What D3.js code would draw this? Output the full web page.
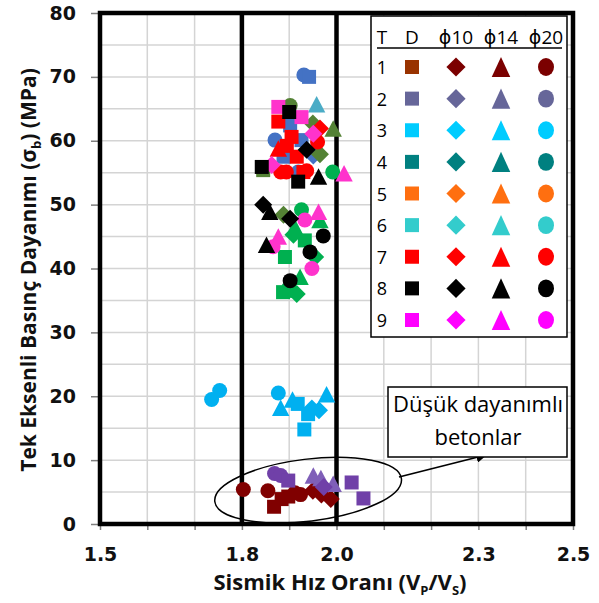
<!DOCTYPE html>
<html>
<head>
<meta charset="utf-8">
<script src="https://cdn.jsdelivr.net/npm/d3@7"></script>
<style>
  html, body { margin: 0; padding: 0; background: #fff; }
  svg { display: block; }
</style>
</head>
<body>
<svg id="chart" width="599" height="603"></svg>
<script>
// Axis ticks
const xTickLabels = [1.5, 1.8, 2.0, 2.3, 2.5];
const yTickLabels = [0, 10, 20, 30, 40, 50, 60, 70, 80];
const xBoundaries = [1.8, 2.0];

// Legend rows: T index, colour of D square, colour of the φ markers
const legendRows = ["1", "2", "3", "4", "5", "6", "7", "8", "9"];
const legendSquareColors = ["#993300", "#666699", "#00CCFF", "#008080", "#FF6F10", "#33CCCC", "#FF0000", "#000000", "#FF00FF"];
const legendShapeColors  = ["#7B0000", "#666699", "#00CCFF", "#008080", "#FF6F10", "#33CCCC", "#FF0000", "#000000", "#FF00FF"];
const legendHeaders = ["T", "D", "ϕ10", "ϕ14", "ϕ20"];
const legendShapes = ["square", "diamond", "triangle", "circle"];

// Measured samples: Vp/Vs ratio and uniaxial compressive strength (MPa)
const darkRedSquares   = { vp: [1.868, 1.884, 1.898], s: [2.7, 3.9, 4.3] };
const darkRedCircles   = { vp: [1.803, 1.855, 1.912, 1.924], s: [5.4, 5.2, 4.9, 4.6] };
const darkRedDiamonds  = { vp: [1.950, 1.968, 1.988], s: [5.2, 4.6, 3.9] };

const purpleCircles    = { vp: [1.869, 1.882], s: [7.9, 7.6] };
const purpleSquares    = { vp: [1.898, 2.032, 2.057], s: [6.8, 6.5, 4.0] };
const purpleTriangles  = { vp: [1.951, 1.967, 1.993], s: [7.6, 7.2, 6.3] };
const purpleDiamonds   = { vp: [1.973], s: [5.8] };

const cyanCircles      = { vp: [1.736, 1.753, 1.877], s: [19.5, 20.9, 20.5] };
const cyanTriangles    = { vp: [1.882, 1.907, 1.979], s: [18.2, 19.5, 20.3] };
const cyanSquares      = { vp: [1.918, 1.940, 1.932], s: [18.8, 17.2, 14.8] };
const cyanDiamonds     = { vp: [1.948, 1.963], s: [18.1, 17.8] };

const greenCircles     = { vp: [1.926, 1.992], s: [49.2, 55.1] };
const greenTriangles   = { vp: [1.965, 1.912, 1.923], s: [47.6, 46.5, 38.7] };
const greenSquares     = { vp: [1.933, 1.891, 1.887, 1.900], s: [44.4, 41.8, 36.3, 36.5] };
const greenDiamonds    = { vp: [1.909, 1.955, 1.916], s: [45.3, 41.8, 36.0] };

const oliveCircles     = { vp: [1.902], s: [65.5] };
const oliveSquares     = { vp: [1.845], s: [55.4] };
const oliveDiamonds    = { vp: [1.950, 1.965, 1.888], s: [62.7, 57.9, 48.4] };
const oliveTriangles   = { vp: [1.993], s: [61.9] };

const blueCircles      = { vp: [1.931, 1.870, 1.919], s: [70.3, 60.1, 55.1] };
const blueSquares      = { vp: [1.942, 1.902, 1.926, 1.888], s: [70.0, 62.4, 60.1, 57.5] };
const blueDiamonds     = { vp: [1.951], s: [57.7] };
const steelTriangles   = { vp: [1.958], s: [65.7] };

const redSquares       = { vp: [1.877, 1.905, 1.895, 1.916, 1.930], s: [63.0, 60.6, 59.2, 57.5, 55.1] };
const redCircles       = { vp: [1.960, 1.882, 1.894, 1.937], s: [59.8, 55.1, 55.1, 55.3] };
const redDiamonds      = { vp: [1.965], s: [61.9] };
const redTriangles     = { vp: [1.877], s: [58.8] };

const pinkSquares      = { vp: [1.877, 1.926], s: [65.3, 63.7] };
const pinkDiamonds     = { vp: [1.951, 1.863], s: [61.1, 56.2] };
const pinkTriangles    = { vp: [1.962, 1.877, 2.016], s: [48.9, 45.0, 54.9] };
const pinkCircles      = { vp: [1.933, 1.866, 1.948], s: [47.6, 43.4, 40.0] };

const blackSquares     = { vp: [1.900, 1.842, 1.919], s: [64.5, 55.9, 53.6] };
const blackDiamonds    = { vp: [1.937, 1.845, 1.902], s: [58.6, 50.0, 47.8] };
const blackTriangles   = { vp: [1.859, 1.852, 1.962], s: [48.9, 43.7, 54.4] };
const blackCircles     = { vp: [1.972, 1.944, 1.902], s: [45.1, 42.6, 38.1] };

// Draw order (later groups sit on top)
const seriesList = [
  [oliveSquares, "square", "#548235"],
  [oliveCircles, "circle", "#548235"],
  [blueCircles, "circle", "#4472C4"],
  [blueSquares, "square", "#4472C4"],
  [blueDiamonds, "diamond", "#4472C4"],
  [steelTriangles, "triangle", "#4BACC6"],
  [oliveDiamonds, "diamond", "#548235"],
  [oliveTriangles, "triangle", "#548235"],
  [redSquares, "square", "#FF0000"],
  [redCircles, "circle", "#FF0000"],
  [redDiamonds, "diamond", "#FF0000"],
  [redTriangles, "triangle", "#FF0000"],
  [greenSquares, "square", "#00B050"],
  [greenDiamonds, "diamond", "#00B050"],
  [greenTriangles, "triangle", "#00B050"],
  [greenCircles, "circle", "#00B050"],
  [pinkSquares, "square", "#FF33CC"],
  [pinkDiamonds, "diamond", "#FF33CC"],
  [pinkTriangles, "triangle", "#FF33CC"],
  [pinkCircles, "circle", "#FF33CC"],
  [blackSquares, "square", "#000000"],
  [blackDiamonds, "diamond", "#000000"],
  [blackTriangles, "triangle", "#000000"],
  [blackCircles, "circle", "#000000"],
  [cyanCircles, "circle", "#00B0F0"],
  [cyanTriangles, "triangle", "#00B0F0"],
  [cyanSquares, "square", "#00B0F0"],
  [cyanDiamonds, "diamond", "#00B0F0"],
  [darkRedSquares, "square", "#800000"],
  [darkRedCircles, "circle", "#800000"],
  [darkRedDiamonds, "diamond", "#800000"],
  [purpleCircles, "circle", "#7040A8"],
  [purpleSquares, "square", "#7040A8"],
  [purpleTriangles, "triangle", "#7F5FB8"],
  [purpleDiamonds, "diamond", "#7040A8"]
];

const svg = d3.select("#chart");
const plotLeft = 100, plotRight = 573, plotTop = 13, plotBottom = 524;
const x = d3.scaleLinear().domain([1.5, 2.5]).range([plotLeft, plotRight]);
const y = d3.scaleLinear().domain([0, 80]).range([plotBottom, plotTop]);
const boldFont = "'Open Sans', 'DejaVu Sans', sans-serif";
const tickFont = "'DejaVu Sans', sans-serif";
const regFont = "'Open Sans', 'DejaVu Sans', sans-serif";

// Marker outline centred on (0,0)
function markerPath(shape, s) {
  const p = d3.path();
  if (shape === "square") {
    p.rect(-s / 2, -s / 2, s, s);
  } else if (shape === "diamond") {
    const h = s * 0.6;
    p.moveTo(0, -h); p.lineTo(h, 0); p.lineTo(0, h); p.lineTo(-h, 0); p.closePath();
  } else if (shape === "triangle") {
    const w = s * 0.58, hh = s * 0.55;
    p.moveTo(0, -hh); p.lineTo(w, hh); p.lineTo(-w, hh); p.closePath();
  } else {
    p.arc(0, 0, s / 2, 0, 2 * Math.PI);
  }
  return p.toString();
}

// Grid
const grid = svg.append("g");
grid.selectAll("line.gx").data(d3.range(1.6, 2.5, 0.1)).join("line")
  .attr("x1", d => x(d)).attr("x2", d => x(d))
  .attr("y1", plotTop).attr("y2", plotBottom)
  .attr("stroke", "#D4D4D4").attr("stroke-width", 1.5);
grid.selectAll("line.gy").data(d3.range(5, 80, 5)).join("line")
  .attr("x1", plotLeft).attr("x2", plotRight)
  .attr("y1", d => y(d)).attr("y2", d => y(d))
  .attr("stroke", "#D4D4D4").attr("stroke-width", 1.5);

// Axes
const xAxis = d3.axisBottom(x).tickValues(d3.range(1.5, 2.55, 0.1)).tickSize(6).tickPadding(18)
  .tickFormat(d => xTickLabels.some(v => Math.abs(v - d) < 1e-6) ? d3.format(".1f")(d) : "");
const gx = svg.append("g").attr("transform", `translate(0,${plotBottom})`).call(xAxis);
gx.select(".domain").remove();
gx.selectAll(".tick line").attr("stroke", "#7f7f7f").attr("stroke-width", 1.5);
gx.selectAll(".tick text").attr("font-family", tickFont).attr("font-weight", "bold")
  .attr("font-size", 19).attr("fill", "#111");

const yAxis = d3.axisLeft(y).tickValues(yTickLabels).tickSize(9).tickPadding(15).tickFormat(d3.format("d"));
const gy = svg.append("g").attr("transform", `translate(${plotLeft},0)`).call(yAxis);
gy.select(".domain").remove();
gy.selectAll(".tick line").attr("stroke", "#7f7f7f").attr("stroke-width", 1.5);
gy.selectAll(".tick text").attr("font-family", tickFont).attr("font-weight", "bold")
  .attr("font-size", 19).attr("fill", "#111");

// Boundary lines at Vp/Vs = 1.8 and 2.0
svg.append("g").selectAll("line").data(xBoundaries).join("line")
  .attr("x1", d => x(d)).attr("x2", d => x(d))
  .attr("y1", plotTop).attr("y2", plotBottom)
  .attr("stroke", "#000").attr("stroke-width", 4.5);

// Data markers
const marks = svg.append("g");
seriesList.forEach(([ser, shape, color]) => {
  const pts = ser.vp.map((v, i) => ({ vp: v, s: ser.s[i] }));
  const size = shape === "square" ? 14 : 15;
  marks.append("g").selectAll("path").data(pts).join("path")
    .attr("transform", d => `translate(${x(d.vp)},${y(d.s)})`)
    .attr("d", markerPath(shape, size))
    .attr("fill", color);
});

// Plot frame
svg.append("rect").attr("x", plotLeft).attr("y", plotTop)
  .attr("width", plotRight - plotLeft).attr("height", plotBottom - plotTop)
  .attr("fill", "none").attr("stroke", "#000").attr("stroke-width", 4.5);

// Legend
const lg = svg.append("g");
const lgLeft = 371, lgTop = 16, lgRight = 567, lgBottom = 337;
lg.append("rect").attr("x", lgLeft).attr("y", lgTop)
  .attr("width", lgRight - lgLeft).attr("height", lgBottom - lgTop)
  .attr("fill", "#fff").attr("stroke", "#000").attr("stroke-width", 1.5);
const colX = [382, 412, 456, 501, 546];
lg.selectAll("text.h").data(legendHeaders).join("text")
  .attr("x", (d, i) => colX[i]).attr("y", 44)
  .attr("text-anchor", "middle").attr("font-family", regFont)
  .attr("font-size", 19).attr("fill", "#000").text(d => d);
lg.append("line").attr("x1", 377).attr("x2", 562).attr("y1", 48).attr("y2", 48)
  .attr("stroke", "#000").attr("stroke-width", 1.5);
const rowY = d3.scaleLinear().domain([0, 8]).range([67, 320]);
legendRows.forEach((r, i) => {
  const yy = rowY(i);
  lg.append("text").attr("x", colX[0]).attr("y", yy + 7)
    .attr("text-anchor", "middle").attr("font-family", regFont)
    .attr("font-size", 18).attr("fill", "#000").text(r);
  legendShapes.forEach((shape, j) => {
    const s = shape === "square" ? 14 : 16;
    lg.append("path").attr("transform", `translate(${colX[j + 1]},${yy})` + (shape === "circle" ? " scale(1,1.12)" : shape === "triangle" ? " scale(1,1.15)" : ""))
      .attr("d", markerPath(shape, s))
      .attr("fill", shape === "square" ? legendSquareColors[i] : legendShapeColors[i]);
  });
});

// Low-strength group: ellipse, arrow and label
const ecx = x(1.94), ecy = y(5.3);
svg.append("ellipse").attr("cx", ecx).attr("cy", ecy).attr("rx", 94).attr("ry", 31)
  .attr("transform", `rotate(-7,${ecx},${ecy})`)
  .attr("fill", "none").attr("stroke", "#000").attr("stroke-width", 1.5);
svg.append("defs").append("marker").attr("id", "arrowHead")
  .attr("viewBox", "0 0 10 10").attr("refX", 9).attr("refY", 5)
  .attr("markerWidth", 6).attr("markerHeight", 6).attr("orient", "auto")
  .append("path").attr("d", "M0,0L10,5L0,10z").attr("fill", "#000");
svg.append("line").attr("x1", 399).attr("y1", 477).attr("x2", 486).attr("y2", 455)
  .attr("stroke", "#000").attr("stroke-width", 1.8).attr("marker-end", "url(#arrowHead)");
svg.append("rect").attr("x", 388).attr("y", 387).attr("width", 179).attr("height", 70)
  .attr("fill", "#fff").attr("stroke", "#000").attr("stroke-width", 1.5);
const note = svg.append("text").attr("font-family", regFont).attr("font-size", 22)
  .attr("text-anchor", "middle").attr("fill", "#000");
note.append("tspan").attr("x", 478).attr("y", 412).attr("textLength", 170).attr("lengthAdjust", "spacingAndGlyphs").text("Düşük dayanımlı");
note.append("tspan").attr("x", 478).attr("y", 445).text("betonlar");

// Axis titles
const xt = svg.append("text").attr("x", 340).attr("y", 590)
  .attr("text-anchor", "middle").attr("font-family", boldFont).attr("font-weight", "bold")
  .attr("font-size", 22).attr("fill", "#111");
xt.append("tspan").text("Sismik Hız Oranı (V");
xt.append("tspan").attr("font-size", 13).attr("dy", 5).text("P");
xt.append("tspan").attr("dy", -5).text("/V");
xt.append("tspan").attr("font-size", 13).attr("dy", 5).text("S");
xt.append("tspan").attr("dy", -5).text(")");

const yt = svg.append("text").attr("transform", "translate(36,270) rotate(-90)")
  .attr("text-anchor", "middle").attr("font-family", boldFont).attr("font-weight", "bold")
  .attr("font-size", 21).attr("fill", "#111");
yt.append("tspan").text("Tek Eksenli Basınç Dayanımı (σ");
yt.append("tspan").attr("font-size", 13).attr("dy", 5).text("b");
yt.append("tspan").attr("dy", -5).text(") (MPa)");
</script>
</body>
</html>
